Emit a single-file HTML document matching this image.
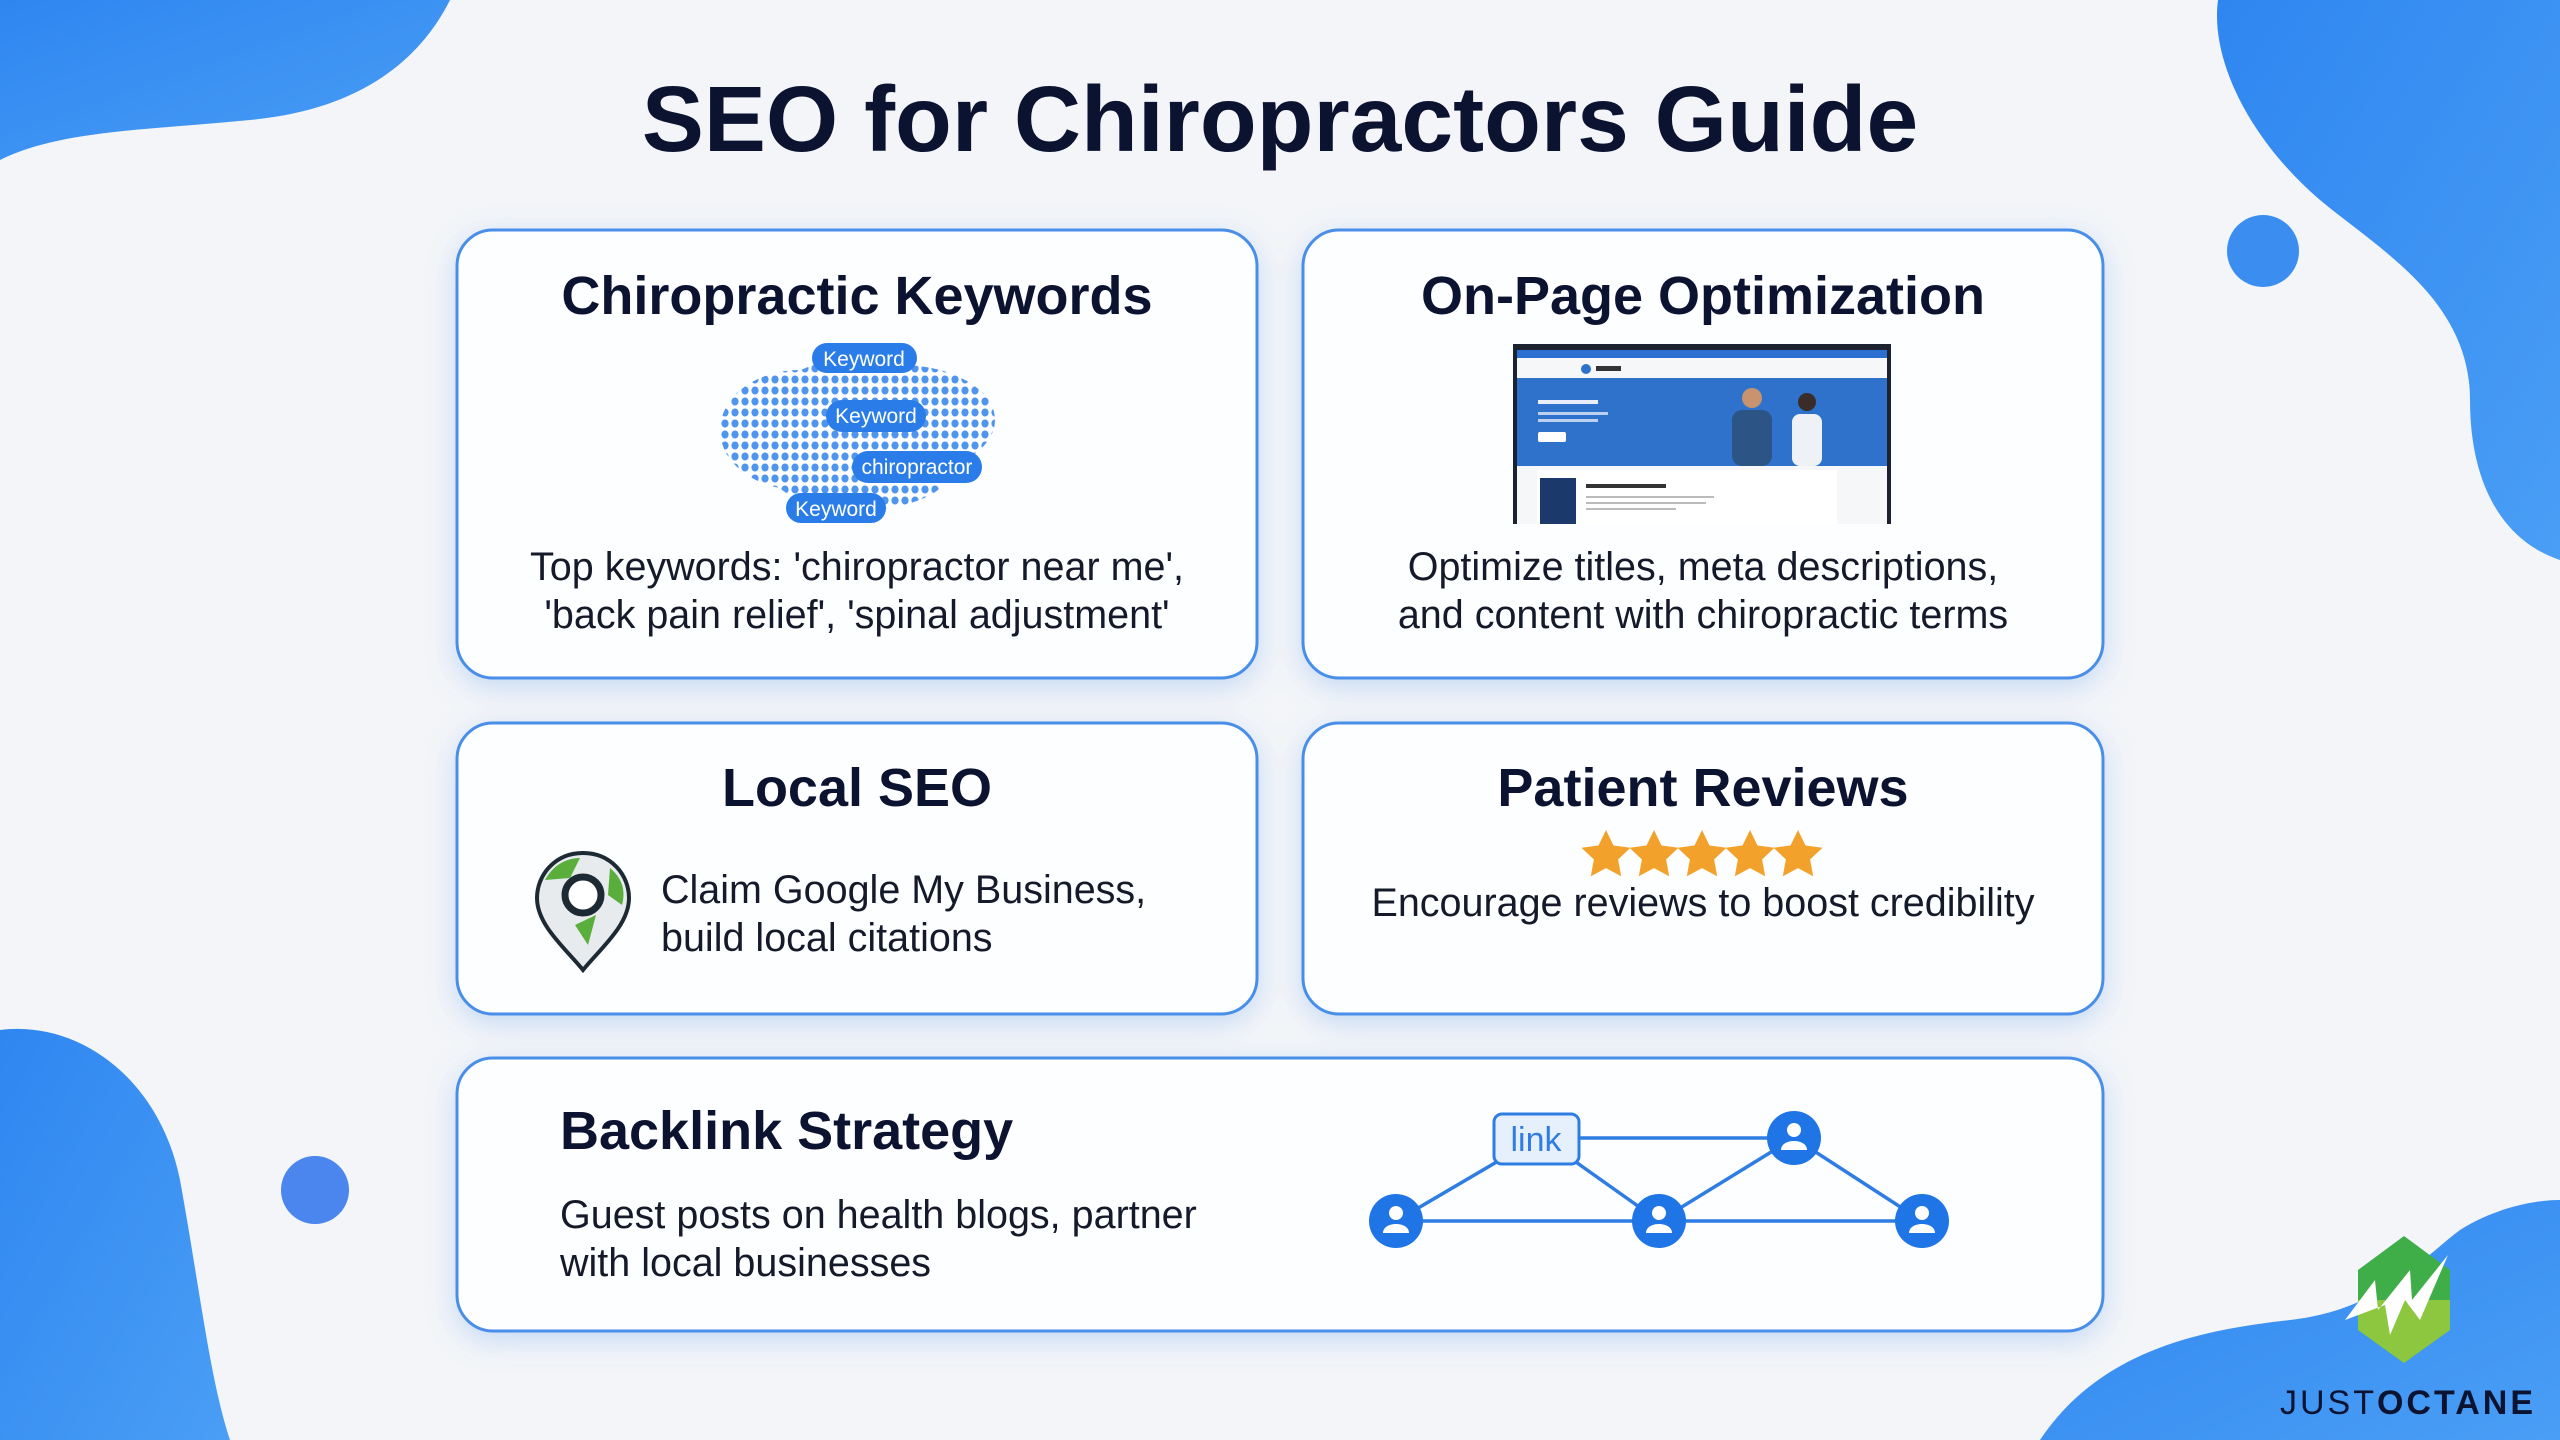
<!DOCTYPE html>
<html><head><meta charset="utf-8"><style>
html,body{margin:0;padding:0;width:2560px;height:1440px;overflow:hidden;background:#f4f6f9}
svg{display:block}
text{font-family:"Liberation Sans",sans-serif}
</style></head><body>
<svg width="2560" height="1440" viewBox="0 0 2560 1440" xmlns="http://www.w3.org/2000/svg">
<defs>
<linearGradient id="bl" x1="0" y1="0" x2="1" y2="1"><stop offset="0" stop-color="#2f86f0"/><stop offset="1" stop-color="#4a9ef5"/></linearGradient>
<filter id="sh" x="-10%" y="-10%" width="120%" height="130%"><feDropShadow dx="0" dy="8" stdDeviation="14" flood-color="#6fa6f0" flood-opacity="0.35"/></filter>
<pattern id="dots" width="10" height="11" patternUnits="userSpaceOnUse"><ellipse cx="5" cy="5.5" rx="3.6" ry="4" fill="#4f95ee"/></pattern>
<clipPath id="cloud">
<ellipse cx="800" cy="430" rx="80" ry="60"/>
<ellipse cx="900" cy="420" rx="95" ry="55"/>
<ellipse cx="860" cy="470" rx="90" ry="40"/>
<ellipse cx="850" cy="395" rx="70" ry="35"/>
</clipPath>
</defs>
<rect width="2560" height="1440" fill="#f3f5f8"/>
<!-- blobs -->
<path d="M0 0 H450 C420 60 360 110 250 120 C150 130 60 130 0 160 Z" fill="url(#bl)"/>
<path d="M2218 0 H2560 V560 C2500 540 2470 480 2470 400 C2470 300 2380 250 2320 200 C2250 140 2210 60 2218 0 Z" fill="url(#bl)"/>
<path d="M0 1030 C80 1020 160 1080 180 1180 C200 1290 210 1380 230 1440 H0 Z" fill="url(#bl)"/>
<path d="M2040 1440 C2100 1350 2200 1330 2290 1320 C2380 1310 2420 1260 2460 1230 C2500 1205 2540 1200 2560 1200 V1440 Z" fill="url(#bl)"/>
<circle cx="2263" cy="251" r="36" fill="#3b8ef0"/>
<circle cx="315" cy="1190" r="34" fill="#4a86ee"/>
<!-- title -->
<text x="1280" y="151" text-anchor="middle" font-size="93" font-weight="bold" fill="#0c1330">SEO for Chiropractors Guide</text>
<!-- cards -->
<g fill="#fdfeff" stroke="#4a8ee8" stroke-width="3" filter="url(#sh)">
<rect x="457" y="230" width="800" height="448" rx="36"/>
<rect x="1303" y="230" width="800" height="448" rx="36"/>
<rect x="457" y="723" width="800" height="291" rx="36"/>
<rect x="1303" y="723" width="800" height="291" rx="36"/>
<rect x="457" y="1058" width="1646" height="273" rx="36"/>
</g>
<g font-weight="bold" font-size="54" fill="#0c1330" text-anchor="middle">
<text x="857" y="314">Chiropractic Keywords</text>
<text x="1703" y="314">On-Page Optimization</text>
<text x="857" y="806">Local SEO</text>
<text x="1703" y="806">Patient Reviews</text>
<text x="560" y="1149" text-anchor="start">Backlink Strategy</text>
</g>
<g font-size="39.5" fill="#151a2a">
<text x="857" y="580" text-anchor="middle">Top keywords: 'chiropractor near me',</text>
<text x="857" y="628" text-anchor="middle">'back pain relief', 'spinal adjustment'</text>
<text x="1703" y="580" text-anchor="middle">Optimize titles, meta descriptions,</text>
<text x="1703" y="628" text-anchor="middle">and content with chiropractic terms</text>
<text x="661" y="903">Claim Google My Business,</text>
<text x="661" y="951">build local citations</text>
<text x="1703" y="916" text-anchor="middle">Encourage reviews to boost credibility</text>
<text x="560" y="1228">Guest posts on health blogs, partner</text>
<text x="560" y="1276">with local businesses</text>
</g>
<!-- keyword cloud -->
<rect x="700" y="340" width="320" height="200" fill="url(#dots)" clip-path="url(#cloud)"/>
<g fill="#2a7de8">
<rect x="812" y="343" width="105" height="30" rx="15"/>
<rect x="826" y="400" width="100" height="32" rx="16"/>
<rect x="852" y="451" width="130" height="32" rx="16"/>
<rect x="786" y="493" width="100" height="30" rx="15"/>
</g>
<g fill="#fff" font-size="21" text-anchor="middle">
<text x="864" y="366">Keyword</text><text x="876" y="423">Keyword</text><text x="917" y="474">chiropractor</text><text x="836" y="516">Keyword</text>
</g>
<!-- laptop screenshot -->
<rect x="1513" y="344" width="378" height="180" fill="#1c2230"/>
<rect x="1517" y="350" width="370" height="174" fill="#f6f7f9"/>
<rect x="1517" y="350" width="370" height="8" fill="#2b6fd0"/>
<rect x="1517" y="378" width="370" height="88" fill="#2f72cc"/>
<circle cx="1586" cy="369" r="5" fill="#2f72cc"/>
<rect x="1596" y="366" width="25" height="5" fill="#333"/>
<rect x="1538" y="400" width="60" height="4" fill="#e8eefc"/>
<rect x="1538" y="412" width="70" height="3" fill="#bcd0f0"/><rect x="1538" y="419" width="60" height="3" fill="#bcd0f0"/>
<rect x="1538" y="432" width="28" height="10" rx="2" fill="#fff"/>
<circle cx="1752" cy="398" r="10" fill="#c9936f"/><rect x="1732" y="410" width="40" height="56" rx="10" fill="#2c5586"/>
<circle cx="1807" cy="402" r="9" fill="#3a2c28"/><rect x="1792" y="414" width="30" height="52" rx="8" fill="#eef2f7"/>
<rect x="1537" y="470" width="300" height="54" fill="#fff"/>
<rect x="1540" y="478" width="36" height="46" fill="#1b3a6b"/>
<rect x="1586" y="484" width="80" height="4" fill="#333"/>
<rect x="1586" y="496" width="128" height="2" fill="#bbb"/><rect x="1586" y="502" width="120" height="2" fill="#bbb"/><rect x="1586" y="508" width="90" height="2" fill="#bbb"/>
<!-- pin -->
<path d="M583 853 C555 853 537 875 537 898 C537 925 565 948 583 970 C601 948 629 925 629 898 C629 875 611 853 583 853 Z" fill="#e7ebee" stroke="#1e2a33" stroke-width="4"/>
<path d="M545 880 C555 862 570 858 580 858 L570 878 Z M610 868 C622 878 626 890 622 905 L608 895 Z M575 925 L596 915 L588 945 Z" fill="#5aae3c"/>
<circle cx="583" cy="895" r="18" fill="#fff" stroke="#1e2a33" stroke-width="7"/>
<!-- stars -->
<g fill="#f2a22a">
<g id="st"><path d="M1606 830 l7.5 15.5 17 2.2-12.4 11.8 3.1 16.8-15.2-8.2-15.2 8.2 3.1-16.8-12.4-11.8 17-2.2z"/></g>
<use href="#st" x="48"/><use href="#st" x="96"/><use href="#st" x="144"/><use href="#st" x="192"/>
</g>
<!-- network -->
<g stroke="#2f7de3" stroke-width="3.5" fill="none">
<line x1="1579" y1="1138" x2="1794" y2="1138"/>
<line x1="1396" y1="1221" x2="1922" y2="1221"/>
<line x1="1396" y1="1221" x2="1500" y2="1160"/>
<line x1="1573" y1="1160" x2="1659" y2="1221"/>
<line x1="1659" y1="1221" x2="1794" y2="1138"/>
<line x1="1794" y1="1138" x2="1922" y2="1221"/>
</g>
<rect x="1494" y="1114" width="85" height="50" rx="8" fill="#e6f0fd" stroke="#2f7de3" stroke-width="3"/>
<text x="1536" y="1151" text-anchor="middle" font-size="34" fill="#2f7de3">link</text>
<g>
<g id="nd"><circle cx="1396" cy="1221" r="27" fill="#1f74e6"/><circle cx="1396" cy="1213" r="7" fill="#fff"/><path d="M1383 1233 c0-12 26-12 26 0z" fill="#fff"/></g>
<use href="#nd" x="263"/><use href="#nd" x="526"/><use href="#nd" x="398" y="-83"/>
</g>
<!-- logo -->
<path d="M2404 1236 L2450 1270 L2450 1330 L2404 1363 L2358 1330 L2358 1270 Z" fill="#3fae49"/>
<path d="M2358 1300 L2450 1300 L2450 1330 L2404 1363 L2358 1330 Z" fill="#8dc63f"/>
<path d="M2345 1320 L2375 1280 L2378 1310 L2410 1270 L2412 1300 L2448 1255 L2420 1320 L2405 1300 L2390 1335 L2385 1305 Z" fill="#fff"/>
<text x="2408" y="1414" text-anchor="middle" font-size="34" fill="#0c1330" letter-spacing="3"><tspan>JUST</tspan><tspan font-weight="bold">OCTANE</tspan></text>
</svg>
</body></html>
